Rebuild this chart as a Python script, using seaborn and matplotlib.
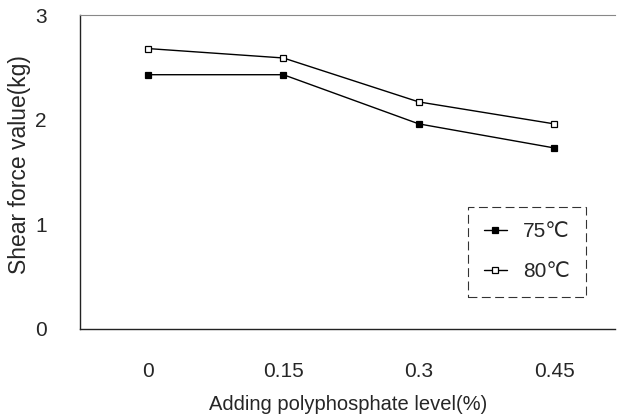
import pandas as pd
import matplotlib
matplotlib.use("Agg")
import matplotlib.pyplot as plt
import seaborn as sns

# Data
levels = ["0", "0.15", "0.3", "0.45"]
shear_75 = [2.43, 2.43, 1.96, 1.73]
shear_80 = [2.68, 2.59, 2.17, 1.96]
series_names = ["75\u2103", "80\u2103"]

df = pd.DataFrame({
    "level": levels * 2,
    "pos": list(range(len(levels))) * 2,
    "shear": shear_75 + shear_80,
    "temp": [series_names[0]] * len(levels) + [series_names[1]] * len(levels),
})

sns.set_style("white")
plt.rcParams["font.family"] = ["Liberation Sans", "DejaVu Sans"]

fig = plt.figure(figsize=(6.22, 4.19), dpi=100)
ax = fig.add_axes([0.129, 0.215, 0.86, 0.749])

sns.lineplot(data=df, x="pos", y="shear", hue="temp", style="temp",
             palette=["black", "black"], markers=["s", "s"], dashes=False,
             markersize=5, linewidth=1.0, legend=False, ax=ax)

lines = ax.get_lines()
faces = ["black", "white"]
for line, fc in zip(lines, faces):
    line.set_markerfacecolor(fc)
    line.set_markeredgecolor("black")
    line.set_markeredgewidth(0.9)

ax.set_xlim(-0.5, 3.45)
ax.set_ylim(0, 3)
ax.set_xticks(range(len(levels)))
ax.set_xticklabels(levels)
ax.set_yticks([0, 1, 2, 3])
ax.tick_params(axis="y", direction="in", length=5, width=0.8, pad=24, labelsize=15)
ax.tick_params(axis="x", length=0, pad=24, labelsize=15)

ax.set_xlabel("Adding polyphosphate level(%)", fontsize=14.5, labelpad=10)
ax.set_ylabel("Shear force value(kg)", fontsize=16.5, labelpad=2)
ax.yaxis.set_label_coords(-0.092, 0.525)

for s in ["left", "bottom"]:
    ax.spines[s].set_color("#222222")
    ax.spines[s].set_linewidth(1.0)
ax.spines["top"].set_color("#888888")
ax.spines["top"].set_linestyle((0, (2, 1)))
ax.spines["top"].set_linewidth(0.8)
ax.spines["right"].set_visible(False)

leg = ax.legend(lines[:2], series_names, loc="upper left",
                bbox_to_anchor=(0.725, 0.389),
                fontsize=15, frameon=True, fancybox=False, handlelength=1.1,
                handletextpad=0.8, labelspacing=1.0, borderpad=0.75,
                borderaxespad=0)
for h, fc in zip(leg.legend_handles, faces):
    h.set_markerfacecolor(fc)
    h.set_markeredgecolor("black")
frame = leg.get_frame()
frame.set_edgecolor("black")
frame.set_linestyle((0, (8, 4)))
frame.set_linewidth(0.8)

fig.savefig("out.png", dpi=100)
